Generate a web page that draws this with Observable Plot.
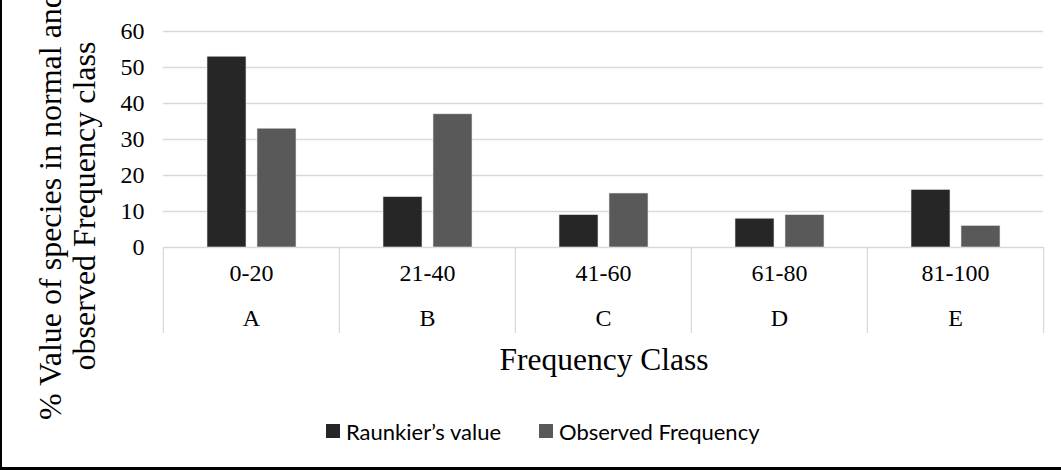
<!DOCTYPE html>
<html>
<head>
<meta charset="utf-8">
<script src="https://cdn.jsdelivr.net/npm/d3@7"></script>
<script src="https://cdn.jsdelivr.net/npm/@observablehq/plot@0.6"></script>
<style>
  html, body { margin: 0; padding: 0; background: #fff; }
  #wrap { position: relative; width: 1061px; height: 470px; overflow: hidden; }
  #border { position: absolute; left: 0; top: 0; width: 1061px; height: 470px; box-sizing: border-box;
            border-left: 2px solid #000; border-bottom: 3px solid #000; pointer-events: none; }
  #ytitle { position: absolute; left: -213px; top: 172px; width: 560px; height: 68px;
            transform: rotate(-90deg); transform-origin: 50% 50%;
            font-family: "Liberation Serif", "Times New Roman", serif; font-size: 32px; line-height: 34px;
            text-align: center; color: #000; white-space: nowrap; }
  #xtitle { position: absolute; left: 354px; width: 500px; top: 344px; text-align: center; line-height: 31px;
            font-family: "Liberation Serif", "Times New Roman", serif; font-size: 31.5px; color: #000; }
  .leg { position: absolute; top: 418px; height: 26px; font-family: Lato, "Noto Sans", sans-serif; font-size: 22px; color: #000;
         display: flex; align-items: center; white-space: nowrap; }
  .sw { width: 14px; height: 14px; margin-right: 6px; display: inline-block; }
</style>
</head>
<body>
<div id="wrap">
  <div id="chart"></div>
  <div id="ytitle"></div>
  <div id="xtitle"></div>
  <div id="legend"></div>
  <div id="border"></div>
</div>
<script>
const classes = ["A", "B", "C", "D", "E"];
const ranges = ["0-20", "21-40", "41-60", "61-80", "81-100"];
const series = ["Raunkier’s value", "Observed Frequency"];
const raunkier = [53, 14, 9, 8, 16];
const observed = [33, 37, 15, 9, 6];
const colors = ["#262626", "#595959"];
const yTicks = [0, 10, 20, 30, 40, 50, 60];
const yTitle = ["% Value of species in normal and", "observed Frequency class"];
const xTitle = "Frequency Class";

const data = [];
classes.forEach((c, i) => {
  data.push({cls: c, series: series[0], value: raunkier[i]});
  data.push({cls: c, series: series[1], value: observed[i]});
});
const labels = classes.map((c, i) => ({cls: c, range: ranges[i]}));

const W = 1061, H = 470, mL = 162, mR = 18, mT = 31, mB = 223;
const facetW = (W - mL - mR) / classes.length;
const frameH = H - mT - mB;
const serif = "Liberation Serif, Times New Roman, serif";
const grid = "#d9d9d9";

const chart = Plot.plot({
  width: W, height: H,
  marginLeft: mL, marginRight: mR, marginTop: mT, marginBottom: mB,
  style: {fontFamily: serif, background: "transparent", overflow: "visible"},
  fx: {domain: classes, padding: 0, axis: null},
  x: {domain: series, paddingInner: 0.22, paddingOuter: 0.87, axis: null},
  y: {domain: [0, 60], ticks: yTicks, axis: null},
  color: {domain: series, range: colors},
  marks: [
    Plot.gridY(yTicks.filter(d => d > 0), {stroke: grid, strokeOpacity: 1, strokeWidth: 1.3}),
    Plot.ruleX(labels, {fx: "cls", x: null, stroke: grid, strokeOpacity: 1, strokeWidth: 1.3, dx: -facetW / 2, insetTop: frameH, insetBottom: -86}),
    Plot.ruleX(labels.slice(-1), {fx: "cls", x: null, stroke: grid, strokeOpacity: 1, strokeWidth: 1.3, dx: facetW / 2, insetTop: frameH, insetBottom: -86}),
    Plot.ruleY([0], {stroke: grid, strokeWidth: 1.3}),
    Plot.barY(data, {fx: "cls", x: "series", y: "value", fill: "series", stroke: "#e6e6e6", strokeWidth: 0.6}),
    Plot.axisY({ticks: yTicks, tickSize: 0, tickPadding: 19, fontSize: 24, label: null}),
    Plot.text(labels, {fx: "cls", text: "range", frameAnchor: "bottom", dy: 33, fontSize: 24, fill: "#000"}),
    Plot.text(labels, {fx: "cls", text: "cls", frameAnchor: "bottom", dy: 78, fontSize: 24, fill: "#000"})
  ]
});
document.getElementById("chart").appendChild(chart);

document.getElementById("ytitle").innerHTML = yTitle.join("<br>");
document.getElementById("xtitle").textContent = xTitle;

const leg = document.getElementById("legend");
const legX = [326, 539];
series.forEach((s, i) => {
  const item = document.createElement("div");
  item.className = "leg";
  item.style.left = legX[i] + "px";
  const sw = document.createElement("span");
  sw.className = "sw";
  sw.style.background = colors[i];
  item.appendChild(sw);
  const t = document.createElement("span");
  t.textContent = s;
  item.appendChild(t);
  leg.appendChild(item);
});
</script>
</body>
</html>
